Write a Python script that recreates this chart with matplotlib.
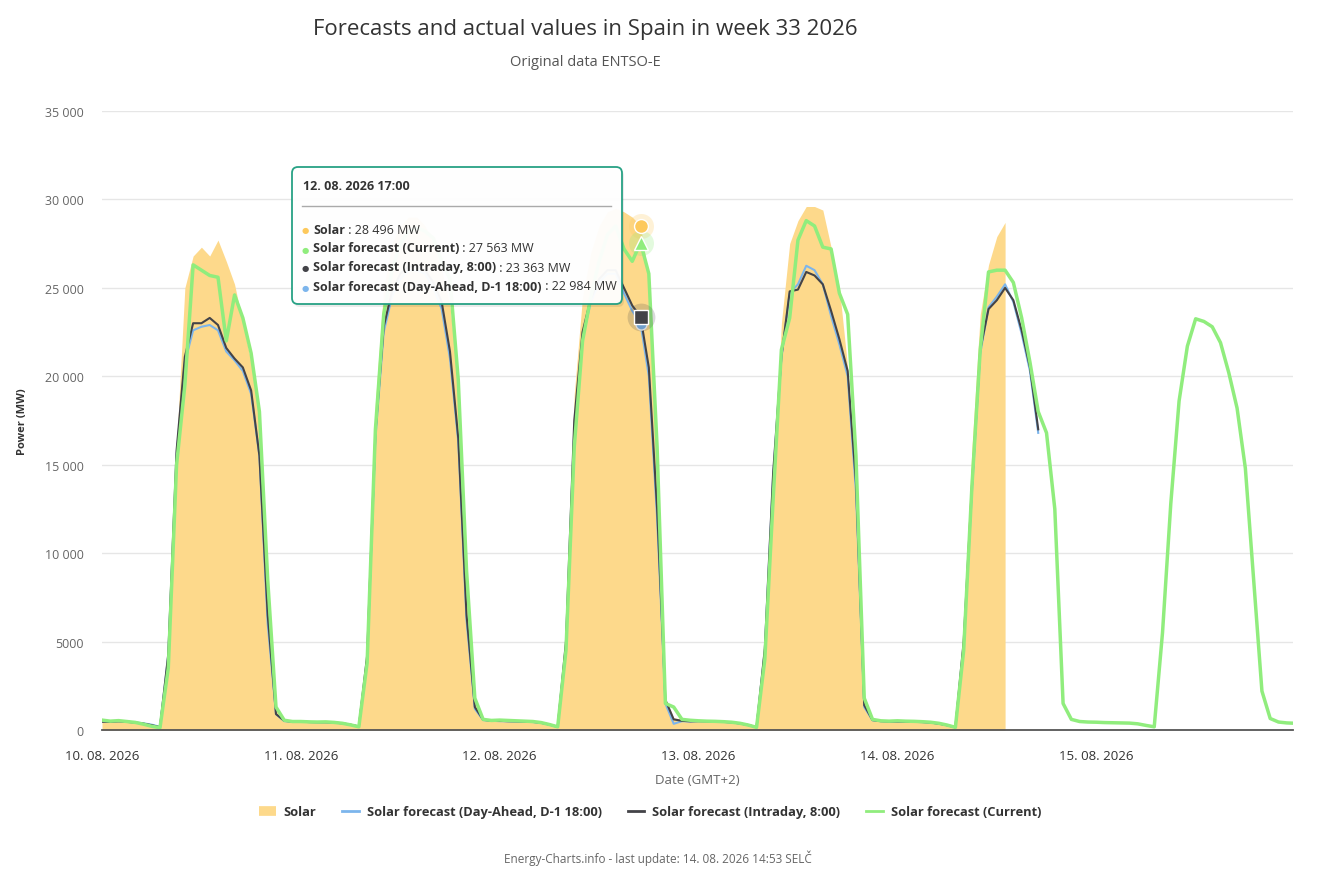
import numpy as np
import pandas as pd
import matplotlib
matplotlib.use("Agg")
from matplotlib import pyplot as plt
from matplotlib import dates as mdates
from matplotlib import transforms as mtransforms
from matplotlib.patches import FancyBboxPatch
from matplotlib.lines import Line2D

plt.rcParams['font.family'] = ['Open Sans', 'DejaVu Sans']

# hourly values (MW), one list per day, starting 10. 08. 2026 00:00
solar_days = [
    [620, 560, 540, 520, 470, 400, 300, 180, 5000, 16000, 25000, 26800, 27300, 26800, 27700, 26500, 25200, 23000, 20800, 17500, 7500, 1200, 560, 500],
    [520, 480, 470, 460, 460, 430, 350, 250, 5000, 18500, 25000, 27500, 28500, 29000, 29000, 28500, 27500, 26000, 24000, 19500, 9000, 1500, 620, 560],
    [560, 540, 520, 500, 480, 430, 330, 200, 6000, 19000, 24500, 27000, 28500, 29300, 29500, 29300, 29000, 28496, 25500, 14000, 1800, 700, 600, 560],
    [560, 540, 520, 500, 470, 420, 320, 200, 5500, 13000, 23000, 27500, 28800, 29600, 29600, 29400, 27300, 25000, 20500, 14000, 2000, 600, 560, 540],
    [560, 540, 520, 500, 470, 420, 320, 200, 6000, 16000, 23500, 26300, 27900, 28700],
]
dayahead_days = [
    [480, 470, 500, 470, 430, 380, 300, 180, 4200, 15500, 20800, 22600, 22800, 22900, 22600, 21400, 20900, 20300, 19000, 15500, 6000, 900, 500, 470],
    [470, 450, 440, 440, 420, 380, 300, 200, 4000, 16500, 22500, 24500, 25500, 26000, 26000, 25800, 25000, 23800, 21000, 16300, 6200, 1200, 560, 520],
    [500, 490, 480, 470, 450, 400, 300, 170, 4800, 17000, 22200, 24200, 25300, 25800, 25800, 24700, 23700, 22984, 20000, 12000, 1500, 350, 500, 480],
    [500, 490, 480, 460, 430, 370, 280, 160, 4500, 14300, 21000, 24700, 25200, 26250, 26000, 25200, 23400, 21800, 20000, 13500, 1300, 550, 500, 480],
    [480, 470, 460, 450, 420, 360, 270, 150, 4800, 13500, 21300, 23900, 24500, 25200, 24200, 22400, 20300, 16800],
]
intraday_days = [
    [470, 460, 490, 460, 420, 360, 270, 160, 4300, 15800, 21100, 23000, 23000, 23300, 22900, 21600, 21000, 20500, 19200, 15500, 6500, 900, 520, 470],
    [470, 450, 440, 440, 420, 380, 300, 200, 4200, 16800, 22800, 24800, 25800, 26200, 26200, 26000, 25300, 24200, 21400, 16500, 6500, 1300, 580, 520],
    [520, 500, 490, 480, 460, 410, 310, 180, 5000, 17500, 22500, 24400, 25500, 26000, 26000, 25000, 24000, 23363, 20500, 12500, 1700, 600, 520, 490],
    [500, 490, 480, 460, 430, 370, 280, 160, 4600, 14500, 21100, 24800, 24900, 25900, 25700, 25200, 23700, 22100, 20300, 14000, 1400, 560, 500, 480],
    [480, 470, 460, 450, 420, 360, 270, 150, 5000, 13800, 21500, 23800, 24300, 25000, 24300, 22600, 20500, 17000],
]
current_days = [
    [560, 500, 530, 480, 430, 330, 210, 130, 3500, 15000, 19500, 26300, 26000, 25700, 25600, 22000, 24600, 23300, 21300, 18000, 8500, 1300, 550, 480],
    [480, 460, 450, 460, 430, 380, 290, 180, 3800, 17000, 23500, 26000, 27500, 28200, 28400, 28200, 27800, 26500, 25500, 19800, 9000, 1800, 600, 540],
    [560, 540, 520, 500, 480, 420, 310, 180, 4500, 16000, 22000, 24500, 26500, 28000, 28500, 27200, 26500, 27563, 25800, 16000, 1500, 1300, 600, 550],
    [520, 500, 490, 470, 440, 380, 280, 150, 4000, 13000, 21500, 23300, 27700, 28800, 28500, 27300, 27200, 24700, 23500, 15500, 1800, 600, 520, 500],
    [520, 500, 490, 470, 440, 380, 280, 150, 4500, 13800, 21500, 25900, 26000, 26000, 25300, 23300, 20800, 18000, 16800, 12500, 1500, 600, 480, 450],
    [440, 420, 410, 400, 390, 350, 260, 180, 5500, 12800, 18600, 21700, 23250, 23100, 22800, 21900, 20200, 18200, 14800, 8500, 2200, 650, 450, 400, 380],
]

series_names = ["Solar", "Solar forecast (Day-Ahead, D-1 18:00)",
                "Solar forecast (Intraday, 8:00)", "Solar forecast (Current)"]
series_colors = ['#fdd98b', '#7cb5ec', '#434348', '#90ed7d']

start = pd.Timestamp('2026-08-10 00:00')
tooltip_time = pd.Timestamp('2026-08-12 17:00')
tooltip_vals = [28496, 27563, 23363, 22984]


def flat(days):
    return np.array([v for d in days for v in d], dtype=float)


solar = flat(solar_days)
dayahead = flat(dayahead_days)
intraday = flat(intraday_days)
current = flat(current_days)
t_solar = pd.date_range(start, periods=len(solar), freq='h')
t_da = pd.date_range(start, periods=len(dayahead), freq='h')
t_id = pd.date_range(start, periods=len(intraday), freq='h')
t_cur = pd.date_range(start, periods=len(current), freq='h')

W, H = 1322, 887
fig = plt.figure(figsize=(W / 100, H / 100), dpi=100)
ax = fig.add_axes([102 / W, 1 - 731 / H, (1293 - 102) / W, (731 - 112) / H])

ax.fill_between(t_solar, 0, solar, color=series_colors[0], lw=0, zorder=2)
ax.plot(t_da, dayahead, color=series_colors[1], lw=1.5, zorder=3)
ax.plot(t_id, intraday, color=series_colors[2], lw=1.5, zorder=4)
ax.plot(t_cur, current, color=series_colors[3], lw=2.5, zorder=5)

# hover markers
ax.plot([tooltip_time], [tooltip_vals[0]], 'o', ms=18, color='#fdc95c', alpha=0.25, mec='none', zorder=6)
ax.plot([tooltip_time], [tooltip_vals[0]], 'o', ms=10, color='#fdc95c', mec='white', mew=1, zorder=7)
ax.plot([tooltip_time], [tooltip_vals[1]], 'o', ms=18, color='#90ed7d', alpha=0.25, mec='none', zorder=6)
ax.plot([tooltip_time], [tooltip_vals[1]], '^', ms=10, color='#90ed7d', mec='white', mew=1, zorder=7)
ax.plot([tooltip_time], [tooltip_vals[3]], 'o', ms=8, color='#7cb5ec', mec='white', mew=1, zorder=6)
ax.plot([tooltip_time], [tooltip_vals[2]], 'o', ms=20, color='#434348', alpha=0.2, mec='none', zorder=6)
ax.plot([tooltip_time], [tooltip_vals[2]], 's', ms=10, color='#434348', mec='white', mew=1, zorder=7)

ax.set_ylim(0, 35000)
ax.set_xlim(start, start + pd.Timedelta(hours=143.75))
ax.set_yticks(np.arange(0, 35001, 5000))
ax.set_yticklabels(['0' if v == 0 else ('%d' % v if v < 10000 else '{:,}'.format(v).replace(',', ' '))
                    for v in range(0, 35001, 5000)])
ax.xaxis.set_major_locator(mdates.DayLocator())
ax.xaxis.set_major_formatter(mdates.DateFormatter('%d. %m. %Y'))
ax.grid(axis='y', color='#e6e6e6', lw=1)
ax.set_axisbelow(True)
for s in ['top', 'right', 'left']:
    ax.spines[s].set_visible(False)
ax.spines['bottom'].set_color('#555555')
ax.spines['bottom'].set_linewidth(1.3)
ax.spines['bottom'].set_zorder(8)
ax.tick_params(axis='y', length=0, pad=13, labelsize=9, labelcolor='#666666')
ax.tick_params(axis='x', length=0, pad=14, labelsize=9.5, labelcolor='#333333')


def fx(x):
    return x / W


def fy(y):
    return 1 - y / H


fig.text(fx(585), fy(29), 'Forecasts and actual values in Spain in week 33 2026',
         ha='center', va='center', fontsize=16, color='#333333')
fig.text(fx(585), fy(62), 'Original data ENTSO-E', ha='center', va='center',
         fontsize=10.5, color='#555555')
fig.text(fx(22), fy(422), 'Power (MW)', rotation=90, ha='center', va='center',
         fontsize=8, fontweight='bold', color='#333333')
fig.text(fx(697), fy(781), 'Date (GMT+2)', ha='center', va='center',
         fontsize=9.5, color='#666666')
fig.text(fx(658), fy(858), 'Energy-Charts.info - last update: 14. 08. 2026 14:53 SELČ',
         ha='center', va='center', fontsize=8.5, color='#666666')

handles = [Line2D([], [], color=series_colors[0], lw=7, solid_capstyle='butt'),
           Line2D([], [], color=series_colors[1], lw=2),
           Line2D([], [], color=series_colors[2], lw=2),
           Line2D([], [], color=series_colors[3], lw=2)]
leg = fig.legend(handles, series_names, loc='center', bbox_to_anchor=(fx(650), fy(813)),
                 ncol=4, frameon=False, handlelength=1.3, handletextpad=0.6,
                 columnspacing=2.0, prop={'weight': 'bold', 'size': 9.3})
for txt in leg.get_texts():
    txt.set_color('#333333')

# tooltip
ident = mtransforms.IdentityTransform()
shadow = FancyBboxPatch((294, H - 308), 330, 137, boxstyle='round,pad=0,rounding_size=6',
                        transform=ident, fc='#000000', ec='none', alpha=0.08)
fig.add_artist(shadow)
box = FancyBboxPatch((292, H - 305), 330, 137, boxstyle='round,pad=0,rounding_size=6',
                     transform=ident, fc='white', ec='#1f9e80', lw=1.3, alpha=0.96)
fig.add_artist(box)
fig.text(fx(303), fy(187), '12. 08. 2026 17:00', ha='left', va='center',
         fontsize=9, fontweight='bold', color='#333333')
fig.add_artist(Line2D([fx(302), fx(611)], [fy(207), fy(207)], transform=fig.transFigure,
                      color='#aaaaaa', lw=1))

renderer = fig.canvas.get_renderer()
rows = [(series_names[0], tooltip_vals[0], '#fdc95c'),
        (series_names[3], tooltip_vals[1], '#90ed7d'),
        (series_names[2], tooltip_vals[2], '#434348'),
        (series_names[1], tooltip_vals[3], '#7cb5ec')]
for i, (name, val, col) in enumerate(rows):
    yy = 230 + i * 19
    fig.text(fx(305), fy(yy + 1), '\u25cf', ha='center', va='center', fontsize=6,
             color=col, family='DejaVu Sans')
    t1 = fig.text(fx(313), fy(yy), name, ha='left', va='center', fontsize=9,
                  fontweight='bold', color='#333333')
    bb = t1.get_window_extent(renderer)
    fig.text(bb.x1 / W, fy(yy), ' : ' + '{:,}'.format(val).replace(',', ' ') + ' MW',
             ha='left', va='center', fontsize=9, color='#333333')

fig.savefig('out.png', dpi=100)
